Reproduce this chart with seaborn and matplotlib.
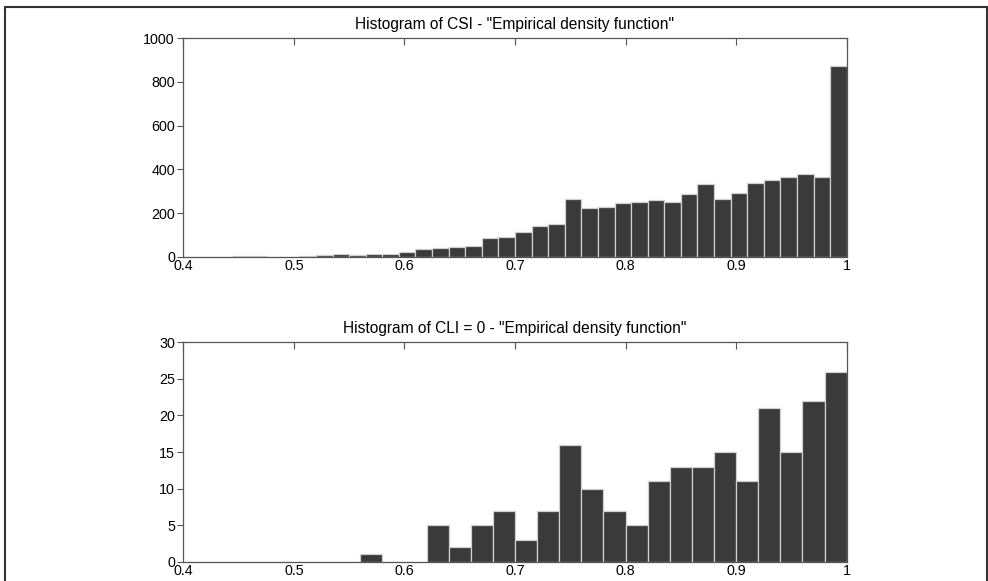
import numpy as np
import pandas as pd
import matplotlib
matplotlib.use('Agg')
import matplotlib.pyplot as plt
import seaborn as sns
from matplotlib.patches import Rectangle

# counts per bin
csi_counts = [0, 0, 0, 3, 3, 0, 0, 2, 9, 12,
              10, 12, 12, 23, 37, 38, 46, 49, 85, 88,
              115, 140, 148, 263, 221, 229, 246, 252, 258, 252,
              289, 331, 263, 292, 337, 350, 363, 380, 363, 873]
cli0_counts = [0, 0, 0, 0, 0, 0, 0, 0, 1, 0,
               0, 5, 2, 5, 7, 3, 7, 16, 10, 7,
               5, 11, 13, 13, 15, 11, 21, 15, 22, 26]

x_ticks = [0.4, 0.5, 0.6, 0.7, 0.8, 0.9, 1.0]
x_ticklabels = ['0.4', '0.5', '0.6', '0.7', '0.8', '0.9', '1']
csi_yticks = [0, 200, 400, 600, 800, 1000]
cli0_yticks = [0, 5, 10, 15, 20, 25, 30]

titles = ['Histogram of CSI - "Empirical density function"',
          'Histogram of CLI = 0 - "Empirical density function"']

sns.set_style('white')
plt.rcParams['font.family'] = ['Liberation Sans', 'DejaVu Sans']
plt.rcParams['font.size'] = 10
plt.rcParams['text.color'] = 'black'
plt.rcParams['xtick.labelcolor'] = 'black'
plt.rcParams['ytick.labelcolor'] = 'black'

fig = plt.figure(figsize=(9.88, 5.81), dpi=100)
ax1 = fig.add_axes([0.1855, 0.5582, 0.6715, 0.3759])
ax2 = fig.add_axes([0.1855, 0.0332, 0.6715, 0.3776])

# outer frame (cut off at the bottom in the reference)
fig.patches.append(Rectangle((5 / 988, -0.05), 981.5 / 988, 1 - 7 / 581 + 0.05,
                             transform=fig.transFigure, fill=False,
                             edgecolor='#333333', linewidth=1.5))


def draw_hist(ax, counts, yticks, title):
    n = len(counts)
    edges = [float(e) for e in np.linspace(0.4, 1.0, n + 1)]
    centers = [(edges[i] + edges[i + 1]) / 2 for i in range(n)]
    df = pd.DataFrame({'value': centers, 'count': counts})
    sns.histplot(data=df, x='value', weights='count', bins=edges, ax=ax,
                 color='#3a3a3a', alpha=1, edgecolor='#d0d0d0', linewidth=0.9)
    ax.set_xlim(0.4, 1.0)
    ax.set_ylim(yticks[0], yticks[-1])
    ax.set_xticks(x_ticks)
    ax.set_xticklabels(x_ticklabels)
    ax.set_yticks(yticks)
    ax.set_yticklabels([str(v) for v in yticks])
    ax.set_xlabel('')
    ax.set_ylabel('')
    ax.set_title(title, fontsize=11.2, pad=7, color='black')
    ax.tick_params(axis='x', bottom=False, top=True, labelbottom=True,
                   direction='in', length=5, width=0.8, color='#555555',
                   pad=1.5, labelsize=10.3, labelcolor='black')
    ax.tick_params(axis='y', left=True, right=False, direction='out',
                   length=4, width=0.8, color='#555555', pad=2,
                   labelsize=10.3, labelcolor='black')
    for side in ['top', 'bottom', 'left', 'right']:
        ax.spines[side].set_visible(True)
        ax.spines[side].set_color('#555555')
        ax.spines[side].set_linewidth(0.9)


draw_hist(ax1, csi_counts, csi_yticks, titles[0])
draw_hist(ax2, cli0_counts, cli0_yticks, titles[1])

fig.savefig('out.png', dpi=100)
